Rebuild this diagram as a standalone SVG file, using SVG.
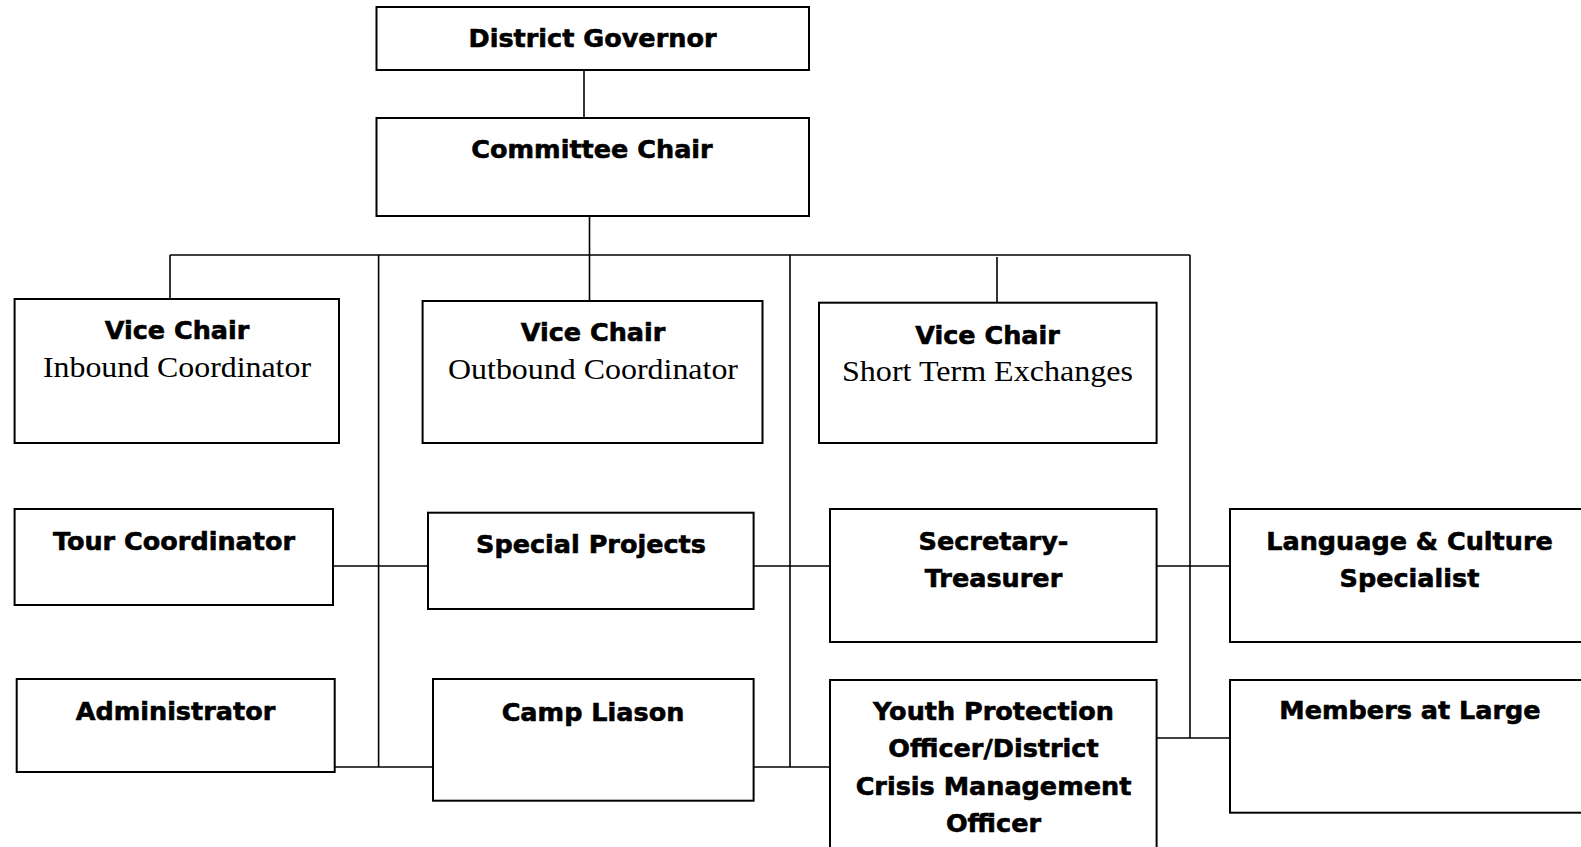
<svg xmlns="http://www.w3.org/2000/svg" width="1581" height="847" viewBox="0 0 1581 847">
<style>
.box{fill:#fff;stroke:#000;stroke-width:2}
.con line{stroke:#000;stroke-width:1.6}
.b{font-family:"DejaVu Sans",sans-serif;font-weight:bold;font-size:25.5px;text-anchor:middle;fill:#000;stroke:#000;stroke-width:0.6}
.s{font-family:"Liberation Serif",serif;font-size:30px;text-anchor:middle;fill:#000}
</style>
<rect width="1581" height="847" fill="#fff"/>
<g id="connectors" class="con">
<line x1="584" y1="70" x2="584" y2="118"/>
<line x1="589.5" y1="216" x2="589.5" y2="301"/>
<line x1="170" y1="255" x2="1190" y2="255"/>
<line x1="170" y1="255" x2="170" y2="299"/>
<line x1="378.6" y1="255" x2="378.6" y2="767"/>
<line x1="790" y1="255" x2="790" y2="767"/>
<line x1="997" y1="257" x2="997" y2="303"/>
<line x1="1190" y1="255" x2="1190" y2="738"/>
<line x1="333" y1="566" x2="428" y2="566"/>
<line x1="753.6" y1="566" x2="830" y2="566"/>
<line x1="1156.6" y1="566" x2="1230" y2="566"/>
<line x1="333.7" y1="767" x2="433" y2="767"/>
<line x1="753.6" y1="767" x2="830" y2="767"/>
<line x1="1156.6" y1="738" x2="1230" y2="738"/>
</g>
<g id="district-governor">
<rect class="box" x="376.5" y="7" width="432.5" height="63"/>
<text class="b" x="592.5" y="47">District Governor</text>
</g>
<g id="committee-chair">
<rect class="box" x="376.5" y="118" width="432.5" height="98"/>
<text class="b" x="592" y="158">Committee Chair</text>
</g>
<g id="vc-inbound">
<rect class="box" x="14.6" y="299" width="324.4" height="144"/>
<text class="b" x="177" y="339">Vice Chair</text>
<text class="s" x="177" y="377" textLength="268" lengthAdjust="spacingAndGlyphs">Inbound Coordinator</text>
</g>
<g id="vc-outbound">
<rect class="box" x="422.6" y="301" width="339.9" height="142"/>
<text class="b" x="593" y="341">Vice Chair</text>
<text class="s" x="593" y="379" textLength="290" lengthAdjust="spacingAndGlyphs">Outbound Coordinator</text>
</g>
<g id="vc-short-term">
<rect class="box" x="819" y="302.7" width="337.6" height="140.3"/>
<text class="b" x="987.5" y="344">Vice Chair</text>
<text class="s" x="987.5" y="381" textLength="291" lengthAdjust="spacingAndGlyphs">Short Term Exchanges</text>
</g>
<g id="tour-coordinator">
<rect class="box" x="14.6" y="509" width="318.4" height="96"/>
<text class="b" x="174" y="550">Tour Coordinator</text>
</g>
<g id="special-projects">
<rect class="box" x="428" y="512.7" width="325.6" height="96.3"/>
<text class="b" x="591" y="553">Special Projects</text>
</g>
<g id="secretary-treasurer">
<rect class="box" x="830" y="509" width="326.6" height="133"/>
<text class="b" x="993.5" y="549.5">Secretary-</text>
<text class="b" x="993.5" y="587">Treasurer</text>
</g>
<g id="language-culture">
<rect class="box" x="1230" y="509" width="360" height="133"/>
<text class="b" x="1409.5" y="550">Language &amp; Culture</text>
<text class="b" x="1409.5" y="587">Specialist</text>
</g>
<g id="administrator">
<rect class="box" x="16.7" y="679" width="318" height="93"/>
<text class="b" x="175.5" y="720">Administrator</text>
</g>
<g id="camp-liason">
<rect class="box" x="433" y="679" width="320.6" height="121.7"/>
<text class="b" x="593" y="720.5">Camp Liason</text>
</g>
<g id="youth-protection">
<rect class="box" x="830" y="680" width="326.6" height="180"/>
<text class="b" x="993.5" y="720">Youth Protection</text>
<text class="b" x="993.5" y="757.3">Officer/District</text>
<text class="b" x="993.5" y="794.5">Crisis Management</text>
<text class="b" x="993.5" y="831.7">Officer</text>
</g>
<g id="members-at-large">
<rect class="box" x="1230" y="680" width="360" height="132.7"/>
<text class="b" x="1410" y="719.3">Members at Large</text>
</g>
</svg>
